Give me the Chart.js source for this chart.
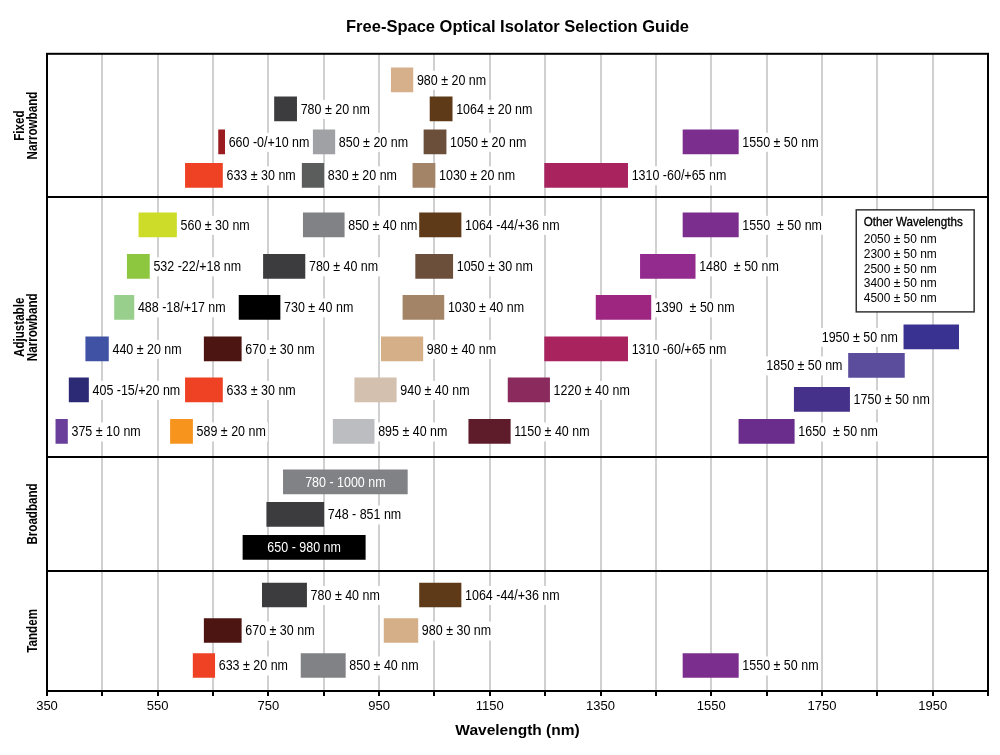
<!DOCTYPE html>
<html><head><meta charset="utf-8">
<script src="https://cdn.jsdelivr.net/npm/chart.js@4.4.1/dist/chart.umd.min.js"></script>
<style>html,body{margin:0;padding:0;background:#fff}#wrap{width:1000px;height:755px;position:relative}</style>
</head><body><div id="wrap"><canvas id="c"></canvas></div>
<script>
const FONT = '"Liberation Sans", Arial, sans-serif';

// ---- Data ----
const panelNames = [['Fixed', 'Narrowband'], ['Adjustable', 'Narrowband'], ['Broadband'], ['Tandem']];
const panelEdges = [0, 14.35, 40.33, 51.67, 63.7];   // row-axis boundaries between panels
const xTickLabels = [350, 550, 750, 950, 1150, 1350, 1550, 1750, 1950];

const fixedLabels = ['980 ± 20 nm', '780 ± 20 nm', '1064 ± 20 nm', '660 -0/+10 nm', '850 ± 20 nm', '1050 ± 20 nm', '1550 ± 50 nm', '633 ± 30 nm', '830 ± 20 nm', '1030 ± 20 nm', '1310 -60/+65 nm'];
const fixedStart = [972, 761, 1042, 660, 831, 1031, 1499, 600, 811, 1011, 1249];
const fixedEnd   = [1011, 801, 1082, 671, 870, 1071, 1599, 667, 850, 1051, 1399];
const fixedRow   = [2.6, 5.5, 5.5, 8.8, 8.8, 8.8, 8.8, 12.15, 12.15, 12.15, 12.15];

const adjLabels = ['560 ± 30 nm', '850 ± 40 nm', '1064 -44/+36 nm', '1550  ± 50 nm',
  '532 -22/+18 nm', '780 ± 40 nm', '1050 ± 30 nm', '1480  ± 50 nm',
  '488 -18/+17 nm', '730 ± 40 nm', '1030 ± 40 nm', '1390  ± 50 nm',
  '440 ± 20 nm', '670 ± 30 nm', '980 ± 40 nm', '1310 -60/+65 nm', '1950 ± 50 nm',
  '405 -15/+20 nm', '633 ± 30 nm', '940 ± 40 nm', '1220 ± 40 nm', '1850 ± 50 nm',
  '375 ± 10 nm', '589 ± 20 nm', '895 ± 40 nm', '1150 ± 40 nm', '1750 ± 50 nm', '1650  ± 50 nm'];
const adjStart = [516, 813, 1023, 1499, 495, 741, 1016, 1422, 472, 697, 993, 1342, 420, 634, 954, 1249, 1898, 390, 600, 906, 1183, 1798, 366, 573, 867, 1112, 1700, 1600];
const adjEnd   = [584, 887, 1098, 1599, 535, 816, 1083, 1521, 507, 771, 1067, 1441, 461, 701, 1029, 1399, 1997, 425, 667, 981, 1258, 1899, 387, 613, 941, 1187, 1800, 1700];
const adjRow   = [17.1, 17.1, 17.1, 17.1, 21.25, 21.25, 21.25, 21.25, 25.35, 25.35, 25.35, 25.35, 29.5, 29.5, 29.5, 29.5, 28.3, 33.6, 33.6, 33.6, 33.6, 31.15, 37.75, 37.75, 37.75, 37.75, 34.55, 37.75];

const bbLabels = ['780 - 1000 nm', '748 - 851 nm', '650 - 980 nm'];
const bbStart = [777, 747, 704];
const bbEnd   = [1001, 850, 925];
const bbRow   = [42.8, 46.05, 49.35];

const tanLabels = ['780 ± 40 nm', '1064 -44/+36 nm', '670 ± 30 nm', '980 ± 30 nm', '633 ± 20 nm', '850 ± 40 nm', '1550 ± 50 nm'];
const tanStart = [739, 1023, 634, 959, 614, 809, 1499];
const tanEnd   = [819, 1098, 701, 1020, 653, 889, 1599];
const tanRow   = [54.1, 54.1, 57.65, 57.65, 61.15, 61.15, 61.15];

const otherTitle = 'Other Wavelengths';
const otherWavelengths = ['2050 ± 50 nm', '2300 ± 50 nm', '2500 ± 50 nm', '3400 ± 50 nm', '4500 ± 50 nm'];

// ---- Styles ----
const fixedColors = ['#d5b08b', '#3c3c3e', '#5e3a18', '#9b1c20', '#a0a1a4', '#6c4f3b', '#7b2e8e', '#ef4123', '#5b5c5c', '#a48467', '#a9235f'];
const adjColors = ['#cddc29', '#818285', '#5e3a18', '#7b2e8e', '#8dc63f', '#3c3c3e', '#6c4f3b', '#932a8d', '#98cf8c', '#000000', '#a48467', '#9e2680',
  '#3f52a4', '#4c1511', '#d4af88', '#a9235f', '#3a3290', '#2c2a74', '#ef4123', '#d4c0ae', '#8a2a5d', '#5c4d9c', '#6a3f9b', '#f7941e', '#bcbdc0', '#5e1c2b', '#46318a', '#6b2d8b'];
const bbColors = ['#818285', '#3c3c3e', '#000000'];
const tanColors = ['#3c3c3e', '#5e3a18', '#4c1511', '#d4af88', '#ef4123', '#818285', '#7b2e8e'];
const adjPlacement = adjLabels.map((l, i) => (i === 16 || i === 21) ? 'left' : 'right');
const bbPlacement = ['inside', 'right', 'inside'];

const LABEL_FONT = '14.5px ' + FONT;
const LABEL_SX = 0.86;

function makeDataset(name, labels, starts, ends, rows, colors, placement) {
  return {
    label: name,
    data: labels.map((l, i) => ({ x: [starts[i], ends[i]], y: rows[i], text: l, place: placement ? placement[i] : 'right' })),
    backgroundColor: colors,
    borderWidth: 0,
    barThickness: 24,
    grouped: false
  };
}

const datasets = [
  makeDataset('Fixed Narrowband', fixedLabels, fixedStart, fixedEnd, fixedRow, fixedColors),
  makeDataset('Adjustable Narrowband', adjLabels, adjStart, adjEnd, adjRow, adjColors, adjPlacement),
  makeDataset('Broadband', bbLabels, bbStart, bbEnd, bbRow, bbColors, bbPlacement),
  makeDataset('Tandem', tanLabels, tanStart, tanEnd, tanRow, tanColors)
];

function eachLabel(chart, fn) {
  const { ctx, scales: { x } } = chart;
  ctx.font = LABEL_FONT;
  chart.data.datasets.forEach((ds, di) => {
    const meta = chart.getDatasetMeta(di);
    ds.data.forEach((d, i) => {
      const el = meta.data[i];
      const x0 = x.getPixelForValue(d.x[0]);
      const x1 = x.getPixelForValue(d.x[1]);
      const w = ctx.measureText(d.text).width * LABEL_SX;
      let tx;
      if (d.place === 'inside') tx = (x0 + x1) / 2 - w / 2;
      else if (d.place === 'left') tx = x0 - 6 - w;
      else tx = x1 + 4;
      fn(d, tx, el.y, w);
    });
  });
}

function drawScaledText(ctx, text, tx, ty, sx) {
  ctx.save();
  ctx.translate(tx, ty);
  ctx.scale(sx, 1);
  ctx.fillText(text, 0, 0);
  ctx.restore();
}

const decor = {
  id: 'decor',
  beforeDatasetsDraw(chart) {
    const { ctx } = chart;
    ctx.save();
    ctx.fillStyle = '#ffffff';
    eachLabel(chart, (d, tx, yc, w) => {
      if (d.place !== 'inside') ctx.fillRect(tx - 2, yc - 9, w + 4, 19);
    });
    ctx.restore();
  },
  afterDatasetsDraw(chart) {
    const { ctx, chartArea: a, scales: { x, y } } = chart;
    ctx.save();
    ctx.textBaseline = 'middle';
    ctx.textAlign = 'left';
    eachLabel(chart, (d, tx, yc, w) => {
      ctx.fillStyle = d.place === 'inside' ? '#ffffff' : '#000000';
      drawScaledText(ctx, d.text, tx, yc + 1, LABEL_SX);
    });
    // other wavelengths box
    const bx0 = x.getPixelForValue(1812), bx1 = x.getPixelForValue(2025);
    const by0 = y.getPixelForValue(15.6), by1 = y.getPixelForValue(25.8);
    ctx.fillStyle = '#ffffff';
    ctx.fillRect(bx0, by0, bx1 - bx0, by1 - by0);
    ctx.strokeStyle = '#333';
    ctx.lineWidth = 1.5;
    ctx.strokeRect(bx0, by0, bx1 - bx0, by1 - by0);
    ctx.fillStyle = '#000';
    ctx.font = '13.5px ' + FONT;
    ctx.lineWidth = 0.35;
    ctx.strokeStyle = '#000';
    ctx.save();
    ctx.translate(bx0 + 7.5, by0 + 12);
    ctx.scale(0.86, 1);
    ctx.fillText(otherTitle, 0, 0);
    ctx.strokeText(otherTitle, 0, 0);
    ctx.restore();
    ctx.font = '13px ' + FONT;
    otherWavelengths.forEach((t, i) => drawScaledText(ctx, t, bx0 + 7.5, by0 + 30 + i * 14.6, 0.92));
    // frame and panel dividers
    ctx.strokeStyle = '#000';
    ctx.lineWidth = 2;
    ctx.strokeRect(a.left, a.top, a.right - a.left, a.bottom - a.top);
    ctx.beginPath();
    for (let k = 1; k < panelEdges.length - 1; k++) {
      const py = Math.round(y.getPixelForValue(panelEdges[k]));
      ctx.moveTo(a.left, py); ctx.lineTo(a.right, py);
    }
    ctx.stroke();
    // panel names (rotated)
    ctx.fillStyle = '#000';
    ctx.font = 'bold 14px ' + FONT;
    ctx.textAlign = 'center';
    ctx.textBaseline = 'middle';
    panelNames.forEach((lines, k) => {
      const cy = (y.getPixelForValue(panelEdges[k]) + y.getPixelForValue(panelEdges[k + 1])) / 2;
      lines.forEach((ln, j) => {
        const cx = 33 - (lines.length - 1 - j) * 13;
        ctx.save();
        ctx.translate(cx, cy);
        ctx.rotate(-Math.PI / 2);
        ctx.scale(0.83, 1);
        ctx.fillText(ln, 0, 0);
        ctx.restore();
      });
    });
    ctx.restore();
  }
};

new Chart(document.getElementById('c'), {
  type: 'bar',
  data: { datasets },
  options: {
    indexAxis: 'y',
    responsive: true,
    maintainAspectRatio: false,
    animation: false,
    layout: { padding: { left: 47, right: 12, top: 0, bottom: 0 } },
    plugins: {
      legend: { display: false },
      tooltip: { enabled: false },
      title: {
        display: true,
        fullSize: false,
        text: 'Free-Space Optical Isolator Selection Guide',
        color: '#000',
        font: { family: FONT, size: 16.5, weight: 'bold' },
        padding: { top: 18, bottom: 16 }
      }
    },
    scales: {
      x: {
        type: 'linear',
        position: 'bottom',
        min: 350, max: 2050,
        afterFit(scale) { scale.height = 64; },
        grid: { color: '#d0d0d0', lineWidth: 2, tickColor: '#000', tickLength: 5, drawOnChartArea: true },
        border: { display: true, color: '#000', width: 2 },
        ticks: {
          stepSize: 100, autoSkip: false, maxRotation: 0, padding: 3,
          color: '#000',
          font: { family: FONT, size: 13 },
          callback: (v) => xTickLabels.includes(v) ? String(v) : ''
        },
        title: {
          display: true, text: 'Wavelength (nm)', color: '#000',
          font: { family: FONT, size: 15.5, weight: 'bold' },
          padding: { top: 0, bottom: 15 }
        }
      },
      y: {
        type: 'linear',
        reverse: true,
        min: panelEdges[0], max: panelEdges[panelEdges.length - 1],
        display: false,
        offset: false
      }
    }
  },
  plugins: [decor]
});
</script></body></html>
